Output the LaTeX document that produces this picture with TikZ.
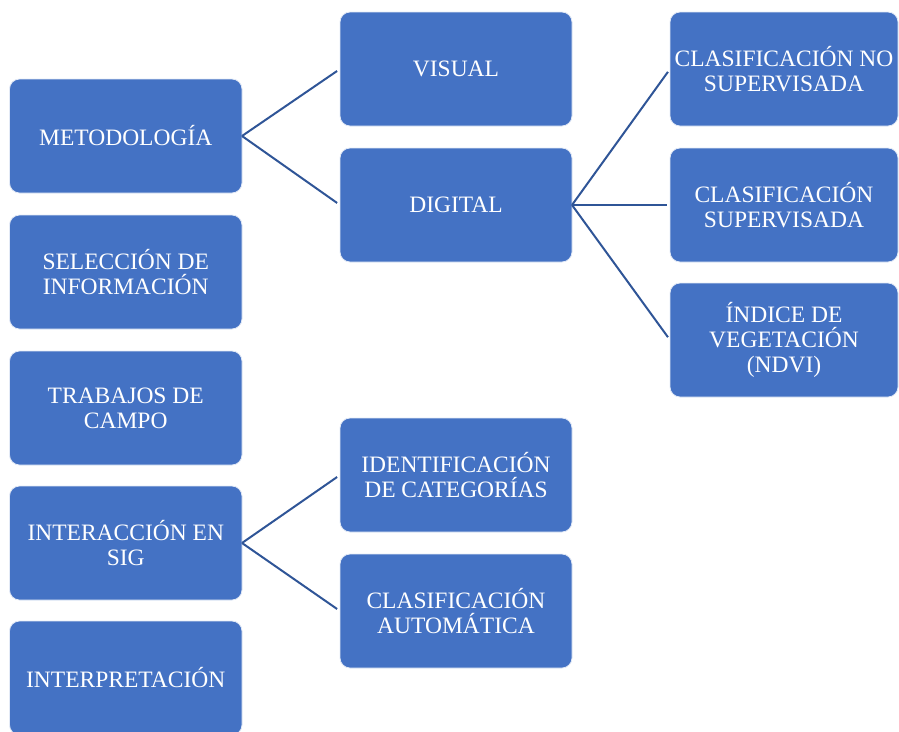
\documentclass[tikz,border=0pt]{standalone}
\usepackage{fontspec}
\setmainfont{Liberation Serif}
\definecolor{boxblue}{RGB}{68,114,196}
\definecolor{linkblue}{RGB}{47,85,151}
\begin{document}
\begin{tikzpicture}[x=1pt,y=-1pt,
  box/.style={draw=white!85!boxblue, line width=0.8pt, fill=boxblue,
    rounded corners=10pt, minimum height=114pt, inner sep=0pt, outer sep=0pt,
    align=center, text=white,
    font=\fontsize{23.5}{25}\selectfont},
  colA/.style={box, minimum width=232.5pt},
  colB/.style={box, minimum width=232pt},
  colC/.style={box, minimum width=228pt},
  link/.style={draw=linkblue, line width=2pt, shorten >=3.5pt}]
\useasboundingbox (0,0) rectangle (899,731);
\clip (0,0) rectangle (899,731);

% first column
\node[colA] (meto)   at (125.75,136) {METODOLOGÍA};
\node[colA] (selec)  at (125.75,272) {SELECCIÓN DE\\INFORMACIÓN};
\node[colA] (campo)  at (125.75,408) {TRABAJOS DE\\CAMPO};
\node[colA] (sig)    at (125.75,543) {INTERACCIÓN EN\\SIG};
\node[colA] (interp) at (125.75,678) {INTERPRETACIÓN};

% second column
\node[colB] (visual)  at (456,69)  {VISUAL};
\node[colB] (digital) at (456,205) {DIGITAL};
\node[colB] (ident)   at (456,475) {IDENTIFICACIÓN\\DE CATEGORÍAS};
\node[colB] (auto)    at (456,611) {CLASIFICACIÓN\\AUTOMÁTICA};

% third column
\node[colC] (nosup) at (784,69)  {CLASIFICACIÓN NO\\SUPERVISADA};
\node[colC] (sup)   at (784,205) {CLASIFICACIÓN\\SUPERVISADA};
\node[colC] (ndvi)  at (784,340) {ÍNDICE DE\\VEGETACIÓN\\(NDVI)};

% connectors
\draw[link] (meto.east) -- (visual.west);
\draw[link] (meto.east) -- (digital.west);
\draw[link] (digital.east) -- (nosup.west);
\draw[link] (digital.east) -- (sup.west);
\draw[link] (digital.east) -- (ndvi.west);
\draw[link] (sig.east) -- (ident.west);
\draw[link] (sig.east) -- (auto.west);
\end{tikzpicture}
\end{document}
